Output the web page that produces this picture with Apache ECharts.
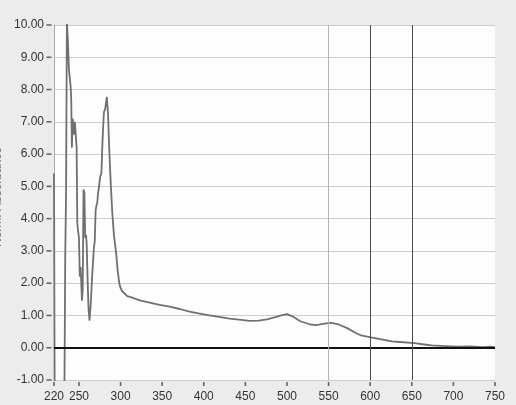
<!DOCTYPE html>
<html>
<head>
<meta charset="utf-8">
<script src="https://cdn.jsdelivr.net/npm/echarts@6/dist/echarts.min.js"></script>
<style>
html,body{margin:0;padding:0;background:#ececec;}
#c{width:516px;height:405px;}
</style>
</head>
<body>
<div id="c"></div>
<script>
var wavelengths = [220,220.8,222,232.5,233.5,234.5,235.5,236.5,238,240,240.7,241.5,242.5,244,245,246,247.2,248,249,250,251,252,253.6,254.5,255.5,256.5,257.5,258.5,259.3,260.5,261.5,262.7,263.5,264.5,265.8,267,268,269,270,271,272,273,274,275.5,277,278,279,280,281.5,283.5,285,286.3,288,290,292,294.8,296.5,298.4,300,302,308,314,323,335,347,359,371,383,395,407,420,431,445,455,466,476,486,493,500,506,516,528,535,545,553,562,573,581,589,601,612,626,640,653,665,674,690,705,720,735,745,750];
var absorbance = [5.4,-1.5,-1.5,-1.5,2.8,4.8,10.1,9.6,8.6,8.1,7.7,6.2,7.1,6.6,7.0,6.65,6.2,3.85,3.6,3.4,2.2,2.5,1.46,1.8,4.9,4.8,3.4,3.5,3.2,2.0,1.2,0.84,0.9,1.5,2.2,2.7,3.1,3.3,4.25,4.4,4.5,4.8,4.97,5.3,5.4,6.2,6.8,7.3,7.4,7.77,7.2,6.2,5.2,4.2,3.5,2.9,2.4,2.0,1.85,1.75,1.6,1.55,1.47,1.4,1.33,1.27,1.2,1.12,1.06,1.0,0.95,0.9,0.86,0.83,0.84,0.88,0.95,1.0,1.04,0.98,0.82,0.72,0.7,0.75,0.77,0.72,0.6,0.48,0.38,0.32,0.27,0.2,0.17,0.14,0.1,0.07,0.05,0.03,0.04,0.02,0.03,0.02];
var xTickLabels = [220,250,300,350,400,450,500,550,600,650,700,750];
var yTickValues = [-1,0,1,2,3,4,5,6,7,8,9,10];
var lightMarks = [550];
var darkMarks = [600,650];
var yAxisName = 'Norm. Absorbance';

var points = wavelengths.map(function(w,i){return [w, absorbance[i]];});
var yTickPts = yTickValues.map(function(v){return [220, v];});
var xTickPts = xTickLabels.map(function(v){return [v, -1];});
var chart = echarts.init(document.getElementById('c'));
var font = '"Liberation Sans", Arial, sans-serif';
var markData = [{yAxis:0, lineStyle:{color:'#111', width:2, type:'solid'}}];
lightMarks.forEach(function(v){markData.push({xAxis:v, lineStyle:{color:'#b4b4b4', width:1, type:'solid'}});});
darkMarks.forEach(function(v){markData.push({xAxis:v, lineStyle:{color:'#4a4a4a', width:1, type:'solid'}});});

chart.setOption({
  backgroundColor:'#ececec',
  animation:false,
  grid:{left:54, right:21, top:25, bottom:25},
  graphic:[{type:'text', x:-2, y:197, rotation:Math.PI/2, style:{text:yAxisName, font:'12px '+font, fill:'#777', align:'center', verticalAlign:'middle'}}],
  xAxis:{type:'value', min:220, max:750,
    axisLine:{show:false, onZero:false},
    splitLine:{show:false},
    axisTick:{show:false},
    axisLabel:{customValues:xTickLabels, margin:11, color:'#333', fontSize:12, fontFamily:font}
  },
  yAxis:{type:'value', min:-1, max:10, interval:1,
    axisLine:{show:true, onZero:false, lineStyle:{color:'#aaa'}},
    axisTick:{show:false},
    axisLabel:{margin:10, color:'#333', fontSize:12, fontFamily:font, formatter:function(v){return v.toFixed(2);}},
    splitLine:{show:true, lineStyle:{color:'#cccccc', width:1}}
  },
  series:[
    {type:'line', data:points, showSymbol:false, clip:true, z:3,
      lineStyle:{color:'#707070', width:1.8},
      markLine:{silent:true, symbol:['none','none'], label:{show:false}, data:markData},
      markArea:{silent:true, z:-10, itemStyle:{color:'#fdfdfd'}, data:[[{xAxis:220, yAxis:-1},{xAxis:750, yAxis:10}]]}
    },
    {type:'scatter', data:yTickPts, clip:false, silent:true, symbol:'rect', symbolSize:[5,1.6], symbolOffset:[-5,0], itemStyle:{color:'#444'}, z:5},
    {type:'scatter', data:xTickPts, clip:false, silent:true, symbol:'rect', symbolSize:[1.6,4], symbolOffset:[0,4], itemStyle:{color:'#444'}, z:5}
  ]
});
</script>
</body>
</html>
